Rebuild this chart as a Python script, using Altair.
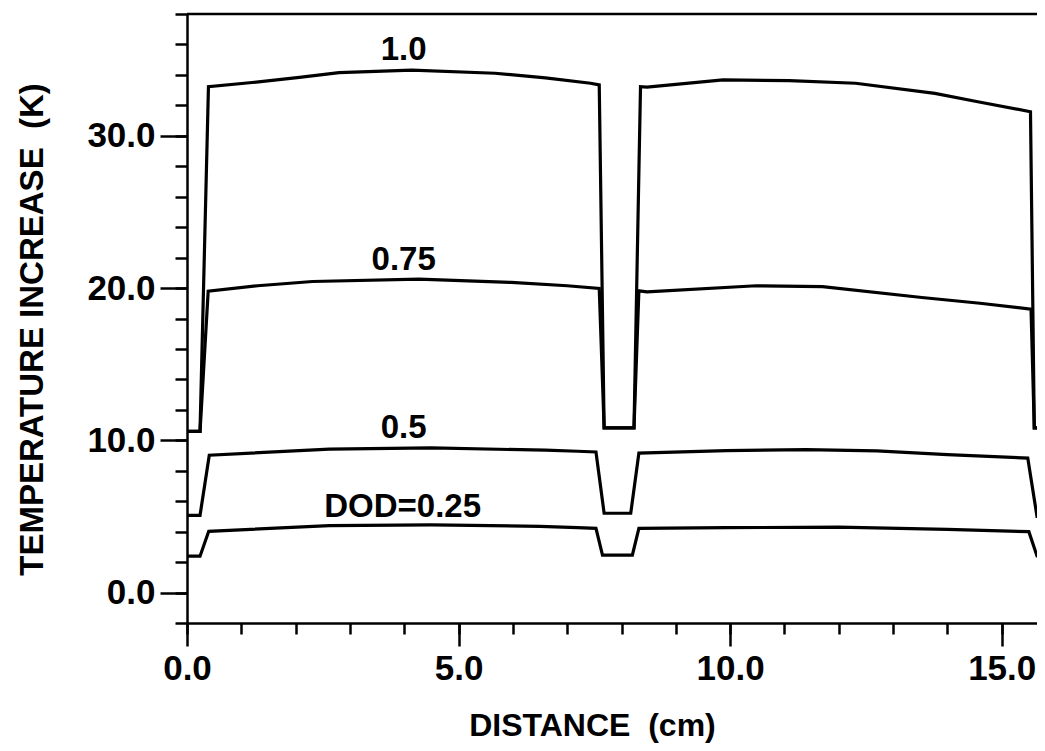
import altair as alt
import pandas as pd

# ---- data ----
x_100 = [0.0, 0.24, 0.395, 1.2, 2.07, 2.80, 4.14, 5.67, 6.6, 7.43, 7.59, 7.68, 8.23, 8.35, 8.47, 9.87, 11.09, 12.31, 13.77, 14.56, 15.53, 15.60, 16.0]
y_100 = [10.59, 10.59, 33.22, 33.5, 33.84, 34.15, 34.32, 34.11, 33.8, 33.45, 33.34, 10.81, 10.81, 33.22, 33.2, 33.67, 33.62, 33.45, 32.79, 32.24, 31.58, 10.81, 10.81]

x_075 = [0.0, 0.24, 0.39, 1.3, 2.31, 4.27, 5.97, 7.0, 7.59, 7.68, 8.23, 8.32, 8.47, 10.48, 11.7, 13.53, 14.6, 15.54, 15.60, 16.0]
y_075 = [10.59, 10.59, 19.8, 20.15, 20.43, 20.59, 20.37, 20.15, 19.97, 10.81, 10.81, 19.82, 19.75, 20.15, 20.09, 19.38, 19.0, 18.62, 10.81, 10.81]

x_050 = [0.0, 0.24, 0.41, 2.62, 4.5, 6.6, 7.19, 7.53, 7.68, 8.17, 8.32, 9.93, 11.4, 12.7, 14.0, 15.48, 15.65, 16.0]
y_050 = [5.07, 5.07, 9.02, 9.42, 9.5, 9.35, 9.28, 9.23, 5.21, 5.21, 9.16, 9.32, 9.39, 9.3, 9.06, 8.83, 5.0, 5.0]

x_025 = [0.0, 0.24, 0.40, 2.62, 4.5, 6.5, 7.19, 7.53, 7.65, 8.2, 8.32, 9.93, 12.0, 14.0, 15.5, 15.65, 16.0]
y_025 = [2.39, 2.39, 4.02, 4.4, 4.45, 4.35, 4.26, 4.22, 2.46, 2.46, 4.22, 4.26, 4.3, 4.15, 4.0, 2.4, 2.4]

series_names = ["1.0", "0.75", "0.5", "0.25"]

label_text = ["1.0", "0.75", "0.5", "DOD=0.25"]
label_x = [3.99, 3.99, 3.99, 3.97]
label_y = [34.95, 21.18, 10.17, 4.96]

x_major = [0, 5, 10, 15]
x_minor = list(range(0, 16))
y_major = [0, 10, 20, 30]
y_minor = list(range(-2, 39, 2))
top_border = [38]

# ---- tables ----
rows = []
for name, xs, ys in zip(series_names, [x_100, x_075, x_050, x_025], [y_100, y_075, y_050, y_025]):
    for i, (a, b) in enumerate(zip(xs, ys)):
        rows.append({"series": name, "i": i, "x": a, "y": b})
df = pd.DataFrame(rows)
lab = pd.DataFrame({"text": label_text, "x": label_x, "y": label_y})
top = pd.DataFrame({"top": top_border})

FONT = "Liberation Sans, Arial, sans-serif"

xscale = alt.Scale(domain=[0, 15.65], zero=False, nice=False)
yscale = alt.Scale(domain=[-2, 38], zero=False, nice=False)

lines = alt.Chart(df).mark_line(color="black", strokeWidth=3.2, clip=True).encode(
    x=alt.X("x:Q", scale=xscale, axis=alt.Axis(
        orient="bottom", values=x_major, format=".1f", tickSize=23,
        labelFont=FONT, labelFontSize=35, labelFontWeight="bold",
        labelBaseline="alphabetic", labelPadding=33, labelFlush=False, labelOverlap=False,
        title="DISTANCE\u00a0\u00a0(cm)", titleFont=FONT, titleFontSize=32, titleFontWeight="bold",
        titleX=405, titleY=112, titleAlign="center", titleBaseline="alphabetic")),
    y=alt.Y("y:Q", scale=yscale, axis=alt.Axis(
        orient="left", values=y_major, format=".1f", tickSize=27,
        labelFont=FONT, labelFontSize=35, labelFontWeight="bold", labelPadding=5,
        labelOverlap=False, labelFlush=False,
        title="TEMPERATURE\u00a0INCREASE\u00a0\u00a0(K)", titleFont=FONT, titleFontSize=33,
        titleFontWeight="bold", titleAngle=270, titleX=-145, titleY=315,
        titleAlign="center", titleBaseline="alphabetic")),
    detail="series:N",
    order="i:Q",
)

labels = alt.Chart(lab).mark_text(
    font=FONT, fontSize=33, fontWeight="bold", align="center",
    baseline="alphabetic", color="black"
).encode(
    x=alt.X("x:Q", scale=xscale, axis=alt.Axis(
        orient="bottom", values=x_minor, tickSize=11, labels=False,
        domain=False, title=None)),
    y=alt.Y("y:Q", scale=yscale, axis=alt.Axis(
        orient="left", values=y_minor, tickSize=12, labels=False,
        domain=False, title=None)),
    text="text:N",
)

rule = alt.Chart(top).mark_rule(color="black", strokeWidth=2.5).encode(
    y=alt.Y("top:Q", scale=yscale, axis=None)
)

chart = alt.layer(lines, labels, rule).resolve_axis(
    x="independent", y="independent"
).properties(
    width=850, height=609,
    autosize=alt.AutoSizeParams(type="none"),
    padding={"left": 179, "top": 6, "right": 0, "bottom": 120},
).configure_view(stroke=None).configure_axis(
    domainColor="black", domainWidth=2.5, tickColor="black", tickWidth=2.5,
    labelColor="black", titleColor="black", grid=False,
)

chart.save("out.html", embed_options={"renderer": "svg", "actions": False})
